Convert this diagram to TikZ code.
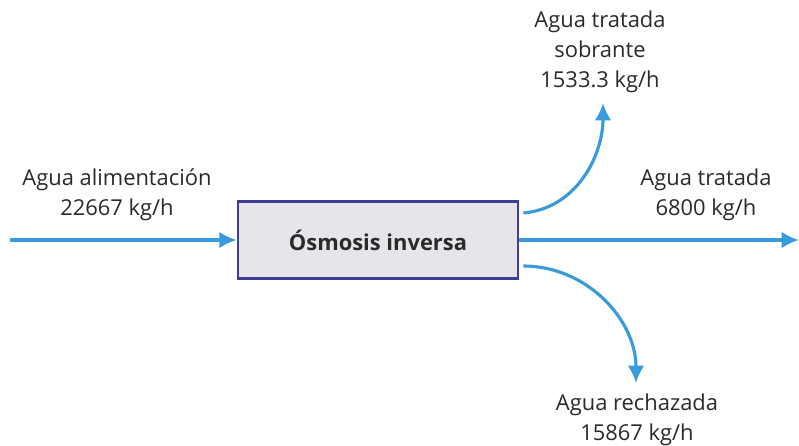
\documentclass[tikz,border=0pt]{standalone}
\usepackage{fontspec}
\setmainfont{Open Sans}
\usepackage{tikz}
\usetikzlibrary{positioning, arrows.meta}

\definecolor{flowblue}{HTML}{3A9BDC}
\definecolor{boxfill}{HTML}{E6E6EA}
\definecolor{boxline}{HTML}{3C3F94}
\definecolor{txt}{HTML}{2A2A2A}

\begin{document}
\begin{tikzpicture}[
    x=0.03cm, y=-0.03cm,
    unit/.style={
        rectangle,
        draw=boxline,
        fill=boxfill,
        line width=2.3pt,
        minimum width=8.4cm,
        minimum height=2.31cm,
        font=\fontsize{18.7}{22}\selectfont\bfseries,
        text=txt
    },
    flowlabel/.style={
        align=center,
        text=txt,
        font=\fontsize{18.7}{25.5}\selectfont
    },
    flow/.style={
        draw=flowblue,
        line width=2.7pt,
        -{Latex[length=5.2mm, width=5mm]}
    }
]

\useasboundingbox (0,0) rectangle (799,446);

% ------------------------------------------------------------------
% UNIT
% ------------------------------------------------------------------

\node[unit] (ro) at (378,240) {Ósmosis inversa};

% ------------------------------------------------------------------
% STREAM END POINTS
% ------------------------------------------------------------------

\coordinate (feed) at (10,240);
\coordinate (product) at (799,240);
\coordinate (surplus) at (603,103);
\coordinate (reject) at (636,383);

% ------------------------------------------------------------------
% LABELS
% ------------------------------------------------------------------

\node[flowlabel] (feedlabel) at (117,195) {Agua alimentación\\22667 kg/h};
\node[flowlabel] (surpluslabel) at (600,52) {Agua tratada\\sobrante\\1533.3 kg/h};
\node[flowlabel] (productlabel) at (706,195) {Agua tratada\\6800 kg/h};
\node[flowlabel] (rejectlabel) at (637,420) {Agua rechazada\\15867 kg/h};

% ------------------------------------------------------------------
% STREAMS
% ------------------------------------------------------------------

\draw[flow] (feed) -- (ro.west);
\draw[flow] (ro.east) -- (product);
\draw[flow] ([xshift=0.12cm, yshift=0.81cm]ro.east) to[out=5, in=-90] (surplus);
\draw[flow] ([xshift=0.12cm, yshift=-0.78cm]ro.east) to[out=0, in=90] (reject);

\end{tikzpicture}
\end{document}
